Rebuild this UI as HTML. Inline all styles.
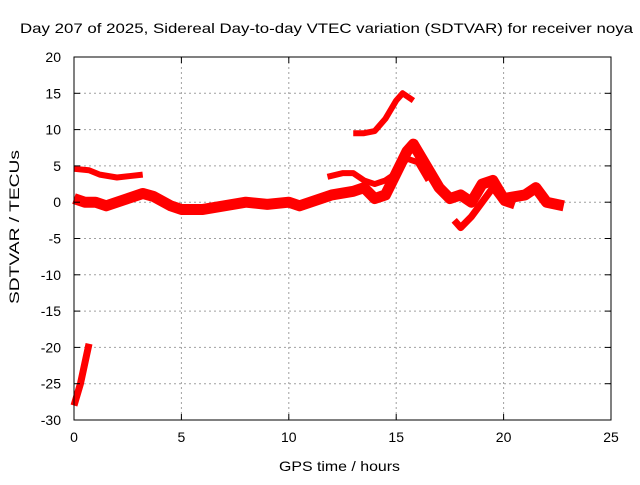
<!DOCTYPE html>
<html><head><meta charset="utf-8"><style>
body{margin:0;background:#fff;font-family:"Liberation Sans",sans-serif}
svg text{font-family:"Liberation Sans",sans-serif;font-size:14px;fill:#000}
</style></head><body>
<svg width="640" height="480" xmlns="http://www.w3.org/2000/svg">
<rect width="640" height="480" fill="#fff"/>
<text x="20" y="33" textLength="613" lengthAdjust="spacingAndGlyphs" style="font-size:14px">Day 207 of 2025, Sidereal Day-to-day VTEC variation (SDTVAR) for receiver noya</text>
<g id="grid"></g>
<g id="series"></g>
<rect x="74" y="57" width="537" height="363" fill="none" stroke="#000"/>
<g id="ticks"></g>
<text x="279" y="471" textLength="121" lengthAdjust="spacingAndGlyphs" style="font-size:14px">GPS time / hours</text>
<text transform="translate(19,304) rotate(-90)" textLength="154" lengthAdjust="spacingAndGlyphs" style="font-size:14px">SDTVAR / TECUs</text>
</svg>
<script>
const xTicks=[0,5,10,15,20,25];
const yTicks=[20,15,10,5,0,-5,-10,-15,-20,-25,-30];
const s1T=[0,0.7,1.2,2,2.6,3.2];
const s1V=[4.6,4.4,3.8,3.4,3.6,3.8];
const s2T=[0,0.5,1,1.5,2,2.5,3.2,3.7,4.5,5,6,7,8,9,10,10.5,11,12,13,13.5,14,14.5,15,15.5,15.8,16.2,17,17.5,18,18.5,19,19.5,20,21,21.5,22,22.8];
const s2V=[0.5,0,0,-0.5,0,0.5,1.2,0.8,-0.5,-1,-1,-0.5,0,-0.3,0,-0.5,0,1,1.5,2,0.5,1,4,7,8,6,2,0.5,1,0,2.5,3,0.5,1,2,0,-0.5];
const s3T=[17.7,18,18.5,19,19.5,20,20.5];
const s3V=[-2.5,-3.5,-2,0,2,0,-0.5];
const s4T=[11.8,12.5,13,13.5,14,14.5,15,15.5,16,16.5];
const s4V=[3.5,4,4,3,2.5,3,4,6,5.5,3];
const s5T=[13,13.5,14,14.5,15,15.3,15.8];
const s5V=[9.5,9.5,9.8,11.5,14,15,14];
const s6T=[0,0.3,0.7];
const s6V=[-28,-25,-19.5];
const X=t=>74+t*537/25, Y=v=>57+(20-v)*363/50;
const NS="http://www.w3.org/2000/svg";
const grid=document.getElementById('grid'),ticks=document.getElementById('ticks'),ser=document.getElementById('series');
function mk(tag,attrs,parent){const e=document.createElementNS(NS,tag);for(const k in attrs)e.setAttribute(k,attrs[k]);parent.appendChild(e);return e;}
xTicks.forEach(t=>{
 const l=mk('line',{x1:X(t),x2:X(t),y1:57,y2:420,stroke:'#a0a0a0','stroke-dasharray':'2,3'},grid);
 
 
 const tx=mk('text',{x:X(t),y:442,'text-anchor':'middle'},ticks);tx.textContent=t;
 
 
 mk('line',{x1:X(t),x2:X(t),y1:420,y2:414,stroke:'#000'},ticks);
 mk('line',{x1:X(t),x2:X(t),y1:57,y2:63,stroke:'#000'},ticks);
});
yTicks.forEach(v=>{
 const l=mk('line',{x1:74,x2:611,y1:Y(v),y2:Y(v),stroke:'#a0a0a0','stroke-dasharray':'2,3'},grid);
 
 
 const tx=mk('text',{x:61,y:Y(v)+5,'text-anchor':'end'},ticks);tx.textContent=v;
 
 
 mk('line',{x1:74,x2:80,y1:Y(v),y2:Y(v),stroke:'#000'},ticks);
 mk('line',{x1:605,x2:611,y1:Y(v),y2:Y(v),stroke:'#000'},ticks);
});
function draw(T,V,w,name){
 const p=mk('polyline',{points:T.map((t,i)=>X(t)+','+Y(V[i])).join(' '),fill:'none',stroke:'#ff0000','stroke-width':w,'stroke-linejoin':'round','stroke-linecap':'butt'},ser);
 
 
}
draw(s1T,s1V,6,'series-upper-left');
draw(s2T,s2V,11,'series-main');
draw(s3T,s3V,7,'series-dip');
draw(s4T,s4V,6,'series-upper-middle');
draw(s5T,s5V,6,'series-top');
draw(s6T,s6V,7,'series-bottom-left');
</script>
</body></html>
